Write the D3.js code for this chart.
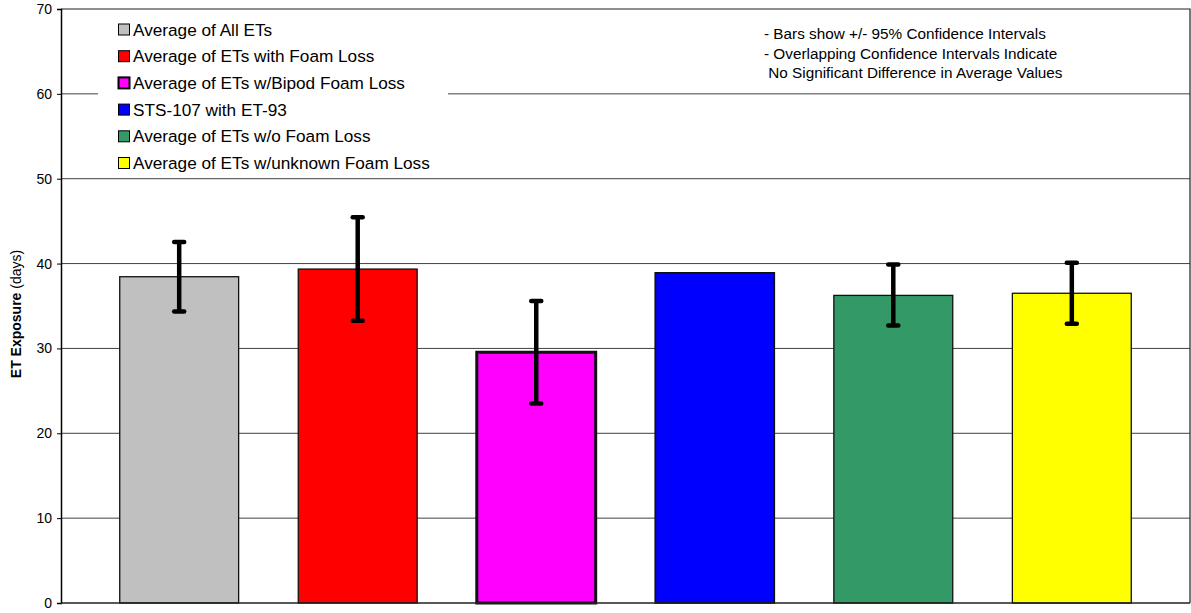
<!DOCTYPE html>
<html>
<head>
<meta charset="utf-8">
<script src="https://cdn.jsdelivr.net/npm/d3@7"></script>
<style>
  html, body { margin: 0; padding: 0; background: #fff; }
  svg { display: block; font-family: "Liberation Sans", Arial, sans-serif; }
</style>
</head>
<body>
<svg id="chart" width="1191" height="613"></svg>
<script>
// ---- data ----
const categories = [
  "Average of All ETs",
  "Average of ETs with Foam Loss",
  "Average of ETs w/Bipod Foam Loss",
  "STS-107 with ET-93",
  "Average of ETs w/o Foam Loss",
  "Average of ETs w/unknown Foam Loss"
];
const values   = [38.45, 39.35, 29.55, 38.9, 36.25, 36.5];
const ciLow    = [34.35, 33.25, 23.5, null, 32.7, 32.9];
const ciHigh   = [42.55, 45.45, 35.6, null, 39.9, 40.1];
const colors   = ["#C0C0C0", "#FF0000", "#FF00FF", "#0000FF", "#339966", "#FFFF00"];
const yTicks   = [0, 10, 20, 30, 40, 50, 60, 70];
const notes    = [
  "- Bars show +/- 95% Confidence Intervals",
  "- Overlapping Confidence Intervals Indicate",
  " No Significant Difference in Average Values"
];

// ---- layout ----
const svg = d3.select("#chart");
const pL = 61, pR = 1190, pT = 9, pB = 603;

const x = d3.scaleBand().domain(categories).range([pL, pR])
  .paddingInner(0.334).paddingOuter(0.329);
const y = d3.scaleLinear().domain([0, 70]).range([pB, pT]);

// gridlines
svg.append("g").selectAll("line").data(yTicks.filter(t => t > 0 && t < 70)).join("line")
  .attr("x1", pL).attr("x2", pR)
  .attr("y1", d => y(d)).attr("y2", d => y(d))
  .attr("stroke", "#404040").attr("stroke-width", 1);

// plot border (top & right)
svg.append("path")
  .attr("d", `M${pL},${pT}H${pR}V${pB}`)
  .attr("fill", "none").attr("stroke", "#202020").attr("stroke-width", 1.2);

// legend background (hides gridline)
svg.append("rect").attr("x", 98).attr("y", 13).attr("width", 350).attr("height", 163)
  .attr("fill", "#fff");

// bars
svg.append("g").selectAll("rect").data(categories).join("rect")
  .attr("x", d => x(d)).attr("width", x.bandwidth())
  .attr("y", (d, i) => y(values[i]))
  .attr("height", (d, i) => y(0) - y(values[i]))
  .attr("fill", (d, i) => colors[i])
  .attr("stroke", "#111")
  .attr("stroke-width", (d, i) => i === 2 ? 3 : (i === 3 ? 1.8 : 1.3));

// error bars
const eb = svg.append("g");
categories.forEach((c, i) => {
  if (ciLow[i] == null) return;
  const cx = x(c) + x.bandwidth() / 2;
  eb.append("line").attr("x1", cx).attr("x2", cx)
    .attr("y1", y(ciLow[i])).attr("y2", y(ciHigh[i]))
    .attr("stroke", "#000").attr("stroke-width", 4.5);
  [ciLow[i], ciHigh[i]].forEach(v => {
    eb.append("line").attr("x1", cx - 5).attr("x2", cx + 5)
      .attr("y1", y(v)).attr("y2", y(v))
      .attr("stroke", "#000").attr("stroke-width", 4.5).attr("stroke-linecap", "round");
  });
});

// y axis
const yAxis = d3.axisLeft(y).tickValues(yTicks).tickSize(4).tickPadding(5);
const ga = svg.append("g").attr("transform", `translate(${pL},0)`).call(yAxis);
ga.select(".domain").attr("stroke", "#000").attr("stroke-width", 1.5);
ga.selectAll(".tick line").attr("stroke", "#000");
ga.selectAll(".tick text").attr("font-size", 14).attr("fill", "#000")
  .attr("font-family", "Liberation Sans, Arial, sans-serif");

// x axis baseline
svg.append("line").attr("x1", pL).attr("x2", pR).attr("y1", y(0)).attr("y2", y(0))
  .attr("stroke", "#202020").attr("stroke-width", 1.5);

// y label
const yl = svg.append("text")
  .attr("transform", `translate(20.5,${314}) rotate(-90)`)
  .attr("text-anchor", "middle").attr("font-size", 14).attr("fill", "#000");
yl.append("tspan").attr("font-weight", "bold").text("ET Exposure");
yl.append("tspan").text(" (days)");

// legend
const lg = svg.append("g");
categories.forEach((c, i) => {
  const cy = 29.5 + i * 26.7;
  lg.append("rect").attr("x", 118.5).attr("y", cy - 5.5).attr("width", 11).attr("height", 11)
    .attr("fill", colors[i]).attr("stroke", "#000").attr("stroke-width", i === 2 ? 2 : 1);
  lg.append("text").attr("x", 133).attr("y", cy).attr("dy", "0.35em")
    .attr("font-size", 17.2).attr("fill", "#000").text(c);
});

// notes
svg.append("g").selectAll("text").data(notes).join("text")
  .attr("x", 764).attr("y", (d, i) => 34 + i * 19.5).attr("dy", "0.35em")
  .attr("font-size", 15.3).attr("fill", "#000")
  .attr("xml:space", "preserve").style("white-space", "pre")
  .text(d => d);
</script>
</body>
</html>
